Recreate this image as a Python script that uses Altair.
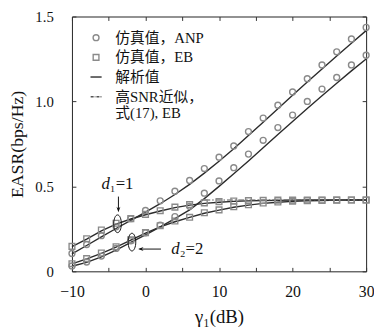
import altair as alt
import pandas as pd

# ---------------- data ----------------
snr = [-10, -8, -6, -4, -2, 0, 2, 4, 6, 8, 10, 12, 14, 16, 18, 20, 22, 24, 26, 28, 30]

anp_d1_sim = [0.105, 0.158, 0.210, 0.262, 0.310, 0.358, 0.415, 0.472, 0.535, 0.605, 0.672,
              0.738, 0.823, 0.902, 0.978, 1.056, 1.134, 1.215, 1.292, 1.368, 1.436]
anp_d1_ana = [0.103, 0.152, 0.203, 0.252, 0.300, 0.348, 0.398, 0.452, 0.512, 0.578, 0.648,
              0.722, 0.800, 0.878, 0.957, 1.036, 1.114, 1.191, 1.268, 1.343, 1.417]
anp_d2_sim = [0.032, 0.055, 0.090, 0.135, 0.180, 0.227, 0.272, 0.322, 0.383, 0.460, 0.532,
              0.610, 0.690, 0.771, 0.846, 0.920, 1.000, 1.073, 1.141, 1.215, 1.272]
anp_d2_ana = [0.030, 0.053, 0.085, 0.125, 0.170, 0.215, 0.262, 0.310, 0.362, 0.428, 0.500,
              0.575, 0.650, 0.727, 0.805, 0.882, 0.958, 1.033, 1.107, 1.180, 1.250]
eb_d1_sim = [0.147, 0.192, 0.243, 0.283, 0.310, 0.335, 0.357, 0.378, 0.393, 0.403, 0.410,
             0.414, 0.416, 0.418, 0.419, 0.419, 0.420, 0.420, 0.420, 0.420, 0.420]
eb_d1_ana = [0.145, 0.190, 0.238, 0.278, 0.308, 0.333, 0.355, 0.375, 0.390, 0.400, 0.407,
             0.412, 0.415, 0.417, 0.418, 0.419, 0.420, 0.420, 0.420, 0.420, 0.420]
eb_d2_sim = [0.045, 0.075, 0.108, 0.145, 0.185, 0.228, 0.268, 0.296, 0.318, 0.345, 0.362,
             0.380, 0.392, 0.402, 0.408, 0.413, 0.416, 0.418, 0.419, 0.420, 0.420]
eb_d2_ana = [0.044, 0.073, 0.106, 0.143, 0.183, 0.225, 0.262, 0.292, 0.318, 0.342, 0.360,
             0.377, 0.390, 0.400, 0.407, 0.412, 0.415, 0.417, 0.419, 0.420, 0.420]

approx_x = [8, 30]
approx_y = [0.42, 0.42]

legend_labels = ["仿真值，ANP", "仿真值，EB", "解析值", "高SNR近似，|式(17), EB"]

x_ticks_major = [-10, 0, 10, 20, 30]
x_ticks_minor = [-10, -5, 0, 5, 10, 15, 20, 25, 30]
y_ticks = [0, 0.5, 1.0, 1.5]

# annotations (data coordinates)
ann_d_x = [-4.85, 4.65]
ann_d_y = [0.511, 0.129]
ann_sub = ["₁=1", "₂=2"]
ell_x = [-3.8, -1.84]
ell_y = [0.28, 0.172]
arrow_x1 = [-3.68, 2.1]
arrow_x2 = [-3.68, -0.8]
arrow_y1 = [0.44, 0.131]
arrow_y2 = [0.36, 0.131]
head_down_x = [-3.68]
head_down_y = [0.348]
head_left_x = [-1.0]
head_left_y = [0.131]

# ---------------- build tables ----------------
def long(values, curve, legend):
    return pd.DataFrame({"x": snr, "y": values, "curve": curve, "legend": legend})

ana_df = pd.concat([long(anp_d1_ana, "anp1", legend_labels[2]),
                    long(anp_d2_ana, "anp2", legend_labels[2]),
                    long(eb_d1_ana, "eb1", legend_labels[2]),
                    long(eb_d2_ana, "eb2", legend_labels[2])])
anp_df = pd.concat([long(anp_d1_sim, "anp1", legend_labels[0]),
                    long(anp_d2_sim, "anp2", legend_labels[0])])
eb_df = pd.concat([long(eb_d1_sim, "eb1", legend_labels[1]),
                   long(eb_d2_sim, "eb2", legend_labels[1])])
approx_df = pd.DataFrame({"x": approx_x, "y": approx_y})
ann_df = pd.DataFrame({"x": ann_d_x, "y": ann_d_y, "sub": ann_sub})
ell_df = pd.DataFrame({"x": ell_x, "y": ell_y})
arrow_df = pd.DataFrame({"x": arrow_x1, "x2": arrow_x2, "y": arrow_y1, "y2": arrow_y2})
head_down_df = pd.DataFrame({"x": head_down_x, "y": head_down_y})
head_left_df = pd.DataFrame({"x": head_left_x, "y": head_left_y})

SERIF = "Liberation Serif, DejaVu Serif, Noto Sans CJK SC"
W, H = 299, 259
xscale = alt.Scale(domain=[-10, 30], nice=False, zero=False, padding=0)
yscale = alt.Scale(domain=[0, 1.5], nice=False, padding=0)

main_x = alt.Axis(values=x_ticks_major, tickSize=0, domain=False, grid=False, labelFlush=False,
                  labelFont=SERIF, labelFontSize=16, labelPadding=13, labelColor="#111",
                  title="γ₁(dB)", titleFont=SERIF, titleFontSize=19, titleFontWeight="normal",
                  titlePadding=8, titleColor="#111")
main_y = alt.Axis(values=y_ticks, tickSize=0, domain=False, grid=False, labelFlush=False,
                  labelFont=SERIF, labelFontSize=15, labelPadding=19, labelColor="#111",
                  labelExpr="datum.value == 0 ? '0' : format(datum.value, '.1f')",
                  title="EASR(bps/Hz)", titleFont=SERIF, titleFontSize=18,
                  titleFontWeight="normal", titlePadding=8, titleColor="#111")

def tick_axis(orient, offset, values):
    return alt.Axis(orient=orient, offset=offset, values=values, tickSize=4, tickColor="#333",
                    labels=False, domain=False, grid=False, title=None)

shape_scale = alt.Scale(domain=legend_labels,
                        range=["circle", "square", "M-2,0H2",
                               "M-2,0H-0.9M-0.5,0H-0.25M0.15,0H1.25M1.65,0H2"])
color_scale = alt.Scale(domain=legend_labels, range=["#8a8a8a", "#8a8a8a", "#2b2b2b", "#555555"])
size_scale = alt.Scale(domain=legend_labels, range=[36, 30, 64, 64])
legend = alt.Legend(title=None, orient="none", legendX=17, legendY=14, padding=0,
                    labelFont=SERIF, labelFontSize=15, labelColor="#111", labelOffset=12,
                    labelLimit=300, rowPadding=4, symbolStrokeWidth=1.4,
                    labelExpr="split(datum.label, '|')")

ana = alt.Chart(ana_df).mark_line(color="#2b2b2b", strokeWidth=1.4).encode(
    x=alt.X("x:Q", scale=xscale, axis=main_x),
    y=alt.Y("y:Q", scale=yscale, axis=main_y),
    detail="curve:N",
)

approx = alt.Chart(approx_df).mark_line(color="#555555", strokeWidth=1.2,
                                        strokeDash=[6, 2, 1.5, 2]).encode(
    x=alt.X("x:Q", scale=xscale, axis=tick_axis("top", -H, x_ticks_minor)),
    y=alt.Y("y:Q", scale=yscale, axis=tick_axis("right", -W, y_ticks)),
)

def pts(df, axes):
    return alt.Chart(df).mark_point(filled=False, strokeWidth=1.4, opacity=1).encode(
        x=alt.X("x:Q", scale=xscale, axis=axes[0]),
        y=alt.Y("y:Q", scale=yscale, axis=axes[1]),
        shape=alt.Shape("legend:N", scale=shape_scale, legend=legend),
        color=alt.Color("legend:N", scale=color_scale, legend=legend),
        size=alt.Size("legend:N", scale=size_scale, legend=legend),
    )

anp_pts = pts(anp_df, (tick_axis("bottom", -H, x_ticks_minor), tick_axis("left", -W, y_ticks)))
eb_pts = pts(eb_df, (None, None))

ax_none_x = alt.X("x:Q", scale=xscale, axis=None)
ax_none_y = alt.Y("y:Q", scale=yscale, axis=None)

d_text = alt.Chart(ann_df).mark_text(font=SERIF, fontSize=17, fontStyle="italic",
                                     align="right", baseline="middle", color="#111").encode(
    x=ax_none_x, y=ax_none_y, text=alt.value("d"))
sub_text = alt.Chart(ann_df).mark_text(font=SERIF, fontSize=17, align="left",
                                       baseline="middle", color="#111").encode(
    x=ax_none_x, y=ax_none_y, text="sub:N")
ellipses = alt.Chart(ell_df).mark_point(
    shape="M0,-1A0.43,1 0 1,1 0,1A0.43,1 0 1,1 0,-1Z", size=324, filled=False,
    color="#111", strokeWidth=1.0, opacity=1).encode(x=ax_none_x, y=ax_none_y)
arrows = alt.Chart(arrow_df).mark_rule(color="#111", strokeWidth=1.0).encode(
    x=ax_none_x, y=ax_none_y, x2="x2:Q", y2="y2:Q")
head_down = alt.Chart(head_down_df).mark_point(
    shape="M0,0L-0.4,-1.1L0,-0.75L0.4,-1.1Z", filled=True, color="#111", size=100,
    opacity=1).encode(x=ax_none_x, y=ax_none_y)
head_left = alt.Chart(head_left_df).mark_point(
    shape="M0,0L1.1,-0.4L0.75,0L1.1,0.4Z", filled=True, color="#111", size=100,
    opacity=1).encode(x=ax_none_x, y=ax_none_y)

chart = alt.layer(ana, approx, anp_pts, eb_pts, ellipses, arrows, head_down, head_left,
                  d_text, sub_text).resolve_axis(
    x="independent", y="independent"
).properties(
    width=W, height=H,
    autosize=alt.AutoSizeParams(type="none"),
    padding={"left": 65, "top": 6, "right": 8, "bottom": 58},
    background="white",
).configure_view(stroke="#222", strokeWidth=1)

chart.save("out.html", embed_options={"renderer": "svg", "actions": False})
